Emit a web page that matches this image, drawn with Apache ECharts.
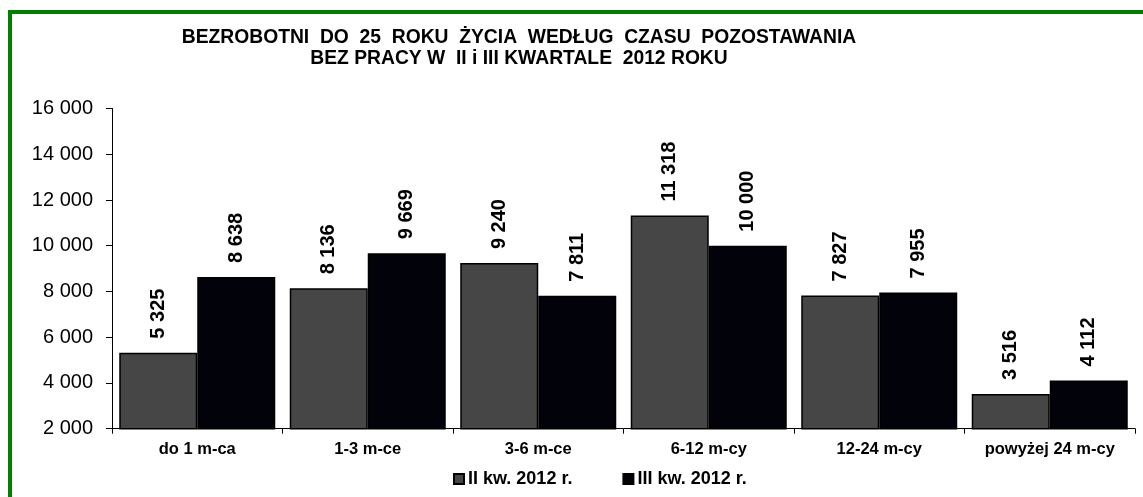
<!DOCTYPE html>
<html>
<head>
<meta charset="utf-8">
<script src="https://cdn.jsdelivr.net/npm/echarts@6/dist/echarts.min.js"></script>
<style>
html,body{margin:0;padding:0;background:#fff;overflow:hidden;}
#frame{position:absolute;left:8px;top:10px;width:2000px;height:2000px;border-left:4px solid #008000;border-top:4px solid #008000;box-sizing:border-box;}
#chart{position:absolute;left:0;top:0;width:1143px;height:497px;}
</style>
</head>
<body>
<div id="frame"></div>
<div id="chart"></div>
<script>
const titleLines = ['BEZROBOTNI  DO  25  ROKU  ŻYCIA  WEDŁUG  CZASU  POZOSTAWANIA', 'BEZ PRACY W  II i III KWARTALE  2012 ROKU'];
const categories = ['do 1 m-ca', '1-3 m-ce', '3-6 m-ce', '6-12 m-cy', '12-24 m-cy', 'powyżej 24 m-cy'];
const seriesNames = ['II kw. 2012 r.', 'III kw. 2012 r.'];
const q2Values = [5325, 8136, 9240, 11318, 7827, 3516];
const q3Values = [8638, 9669, 7811, 10000, 7955, 4112];
const yMin = 2000, yMax = 16000, yStep = 2000;

const FONT = "'Liberation Sans', Arial, sans-serif";
function fmt(v){ return String(v).replace(/\B(?=(\d{3})+(?!\d))/g, ' '); }

const chart = echarts.init(document.getElementById('chart'), null, {renderer:'canvas'});
const labelCfg = {
  show: true, position: 'top', rotate: 90, distance: 14,
  align: 'left', verticalAlign: 'middle',
  formatter: p => fmt(p.value),
  fontFamily: FONT, fontWeight: 'bold', fontSize: 20, color: '#000'
};
chart.setOption({
  animation: false,
  backgroundColor: 'transparent',
  title: {
    text: titleLines.join('\n'),
    left: 514, top: 22, textAlign: 'center', padding: 5,
    textStyle: {fontFamily: FONT, fontWeight: 'bold', fontSize: 19.3, lineHeight: 21, color: '#000'}
  },
  legend: {
    data: seriesNames,
    left: 453, top: 470, padding: 0,
    itemWidth: 10, itemHeight: 10, itemGap: 50,
    textStyle: {fontFamily: FONT, fontWeight: 'bold', fontSize: 18, color: '#000', padding: [0,0,0,-1]},
    icon: 'rect'
  },
  grid: {left: 112, right: 8, top: 108.5, bottom: 68.3, containLabel: false},
  xAxis: {
    type: 'category', data: categories,
    axisLine: {lineStyle: {color: '#000', width: 1}},
    axisTick: {show: true, inside: false, length: 5, lineStyle: {color: '#000'}, alignWithLabel: false},
    axisLabel: {fontFamily: FONT, fontWeight: 'bold', fontSize: 16.5, color: '#000', margin: 12}
  },
  yAxis: {
    type: 'value', min: yMin, max: yMax, interval: yStep,
    axisLine: {show: true, lineStyle: {color: '#000', width: 1}},
    axisTick: {show: true, inside: false, length: 6, lineStyle: {color: '#000'}},
    splitLine: {show: false},
    axisLabel: {fontFamily: FONT, fontSize: 20, color: '#000', margin: 19, formatter: v => fmt(v)}
  },
  series: [
    {name: seriesNames[0], type: 'bar', data: q2Values, barGap: '0%', barCategoryGap: '8.5%',
     itemStyle: {color: '#464646', borderColor: '#000', borderWidth: 1.5}, label: labelCfg},
    {name: seriesNames[1], type: 'bar', data: q3Values, barGap: '0%', barCategoryGap: '8.5%',
     itemStyle: {color: '#02020a', borderColor: '#000', borderWidth: 1.5}, label: labelCfg}
  ]
});
</script>
</body>
</html>
